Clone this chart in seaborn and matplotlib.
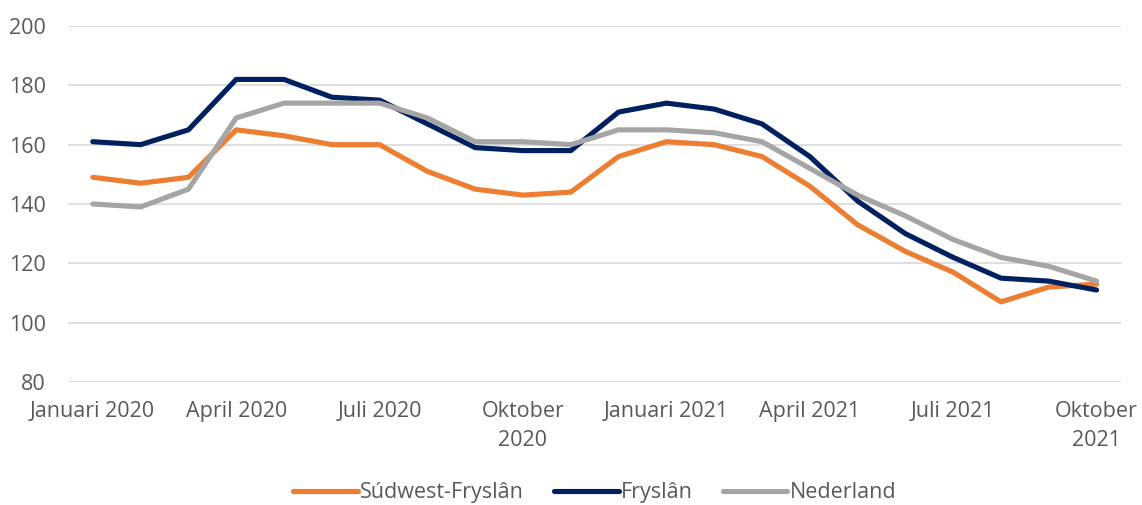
import matplotlib
matplotlib.use("Agg")
import matplotlib.pyplot as plt
from matplotlib import font_manager
import seaborn as sns
import pandas as pd
import numpy as np

months = ["2020-01", "2020-02", "2020-03", "2020-04", "2020-05", "2020-06", "2020-07",
          "2020-08", "2020-09", "2020-10", "2020-11", "2020-12", "2021-01", "2021-02",
          "2021-03", "2021-04", "2021-05", "2021-06", "2021-07", "2021-08", "2021-09",
          "2021-10"]
sudwest = [149, 147, 149, 165, 163, 160, 160, 151, 145, 143, 144, 156, 161, 160,
           156, 146, 133, 124, 117, 107, 112, 113]
fryslan = [161, 160, 165, 182, 182, 176, 175, 167, 159, 158, 158, 171, 174, 172,
           167, 156, 141, 130, 122, 115, 114, 111]
nederland = [140, 139, 145, 169, 174, 174, 174, 169, 161, 161, 160, 165, 165, 164,
             161, 152, 143, 136, 128, 122, 119, 114]
series_names = ["Súdwest-Fryslân", "Fryslân", "Nederland"]
tick_labels = ["Januari 2020", "April 2020", "Juli 2020", "Oktober\n2020",
               "Januari 2021", "April 2021", "Juli 2021", "Oktober\n2021"]
colors = ["#ED7D31", "#002060", "#A5A5A5"]

sns.set_theme(style="white")
avail = {f.name for f in font_manager.fontManager.ttflist}
fam = "Liberation Sans Narrow" if "Liberation Sans Narrow" in avail else "Open Sans"
plt.rcParams["font.family"] = [fam, "DejaVu Sans"]

idx = np.arange(len(months))
df = pd.DataFrame({
    "x": np.concatenate([idx, idx, idx]),
    "value": sudwest + fryslan + nederland,
    "serie": [series_names[0]] * len(idx) + [series_names[1]] * len(idx) + [series_names[2]] * len(idx),
})

fig = plt.figure(figsize=(11.42, 5.05), dpi=100)
ax = fig.add_axes([0.0595, 0.2436, 0.9225, 0.7049])
sns.lineplot(data=df, x="x", y="value", hue="serie", hue_order=series_names,
             palette=colors, linewidth=3.7, ax=ax, legend=True)
for ln in ax.lines:
    ln.set_solid_capstyle("round")
    ln.set_solid_joinstyle("round")

ax.set_xlim(-0.52, 21.52)
ax.set_ylim(80, 200)
ax.set_yticks([80, 100, 120, 140, 160, 180, 200])
ax.set_xticks(idx[::3])
ax.set_xticklabels(tick_labels, linespacing=1.45)
ax.tick_params(axis="both", colors="#595959", labelsize=15.5, length=0)
ax.tick_params(axis="x", pad=14)
ax.tick_params(axis="y", pad=16)
for lab in ax.get_yticklabels():
    lab.set_color("#595959")
for lab in ax.get_xticklabels():
    lab.set_color("#595959")
ax.yaxis.grid(True, color="#D9D9D9", linewidth=1.2)
ax.set_axisbelow(True)
for s in ax.spines.values():
    s.set_visible(False)
ax.set_xlabel("")
ax.set_ylabel("")

handles, labels = ax.get_legend_handles_labels()
ax.legend(handles, labels, loc="lower center", bbox_to_anchor=(0.5, -0.395),
          ncol=3, frameon=False, fontsize=15.5, handlelength=3.0, handletextpad=0.1,
          columnspacing=1.4, labelcolor="#595959")

fig.savefig("out.png", dpi=100)
